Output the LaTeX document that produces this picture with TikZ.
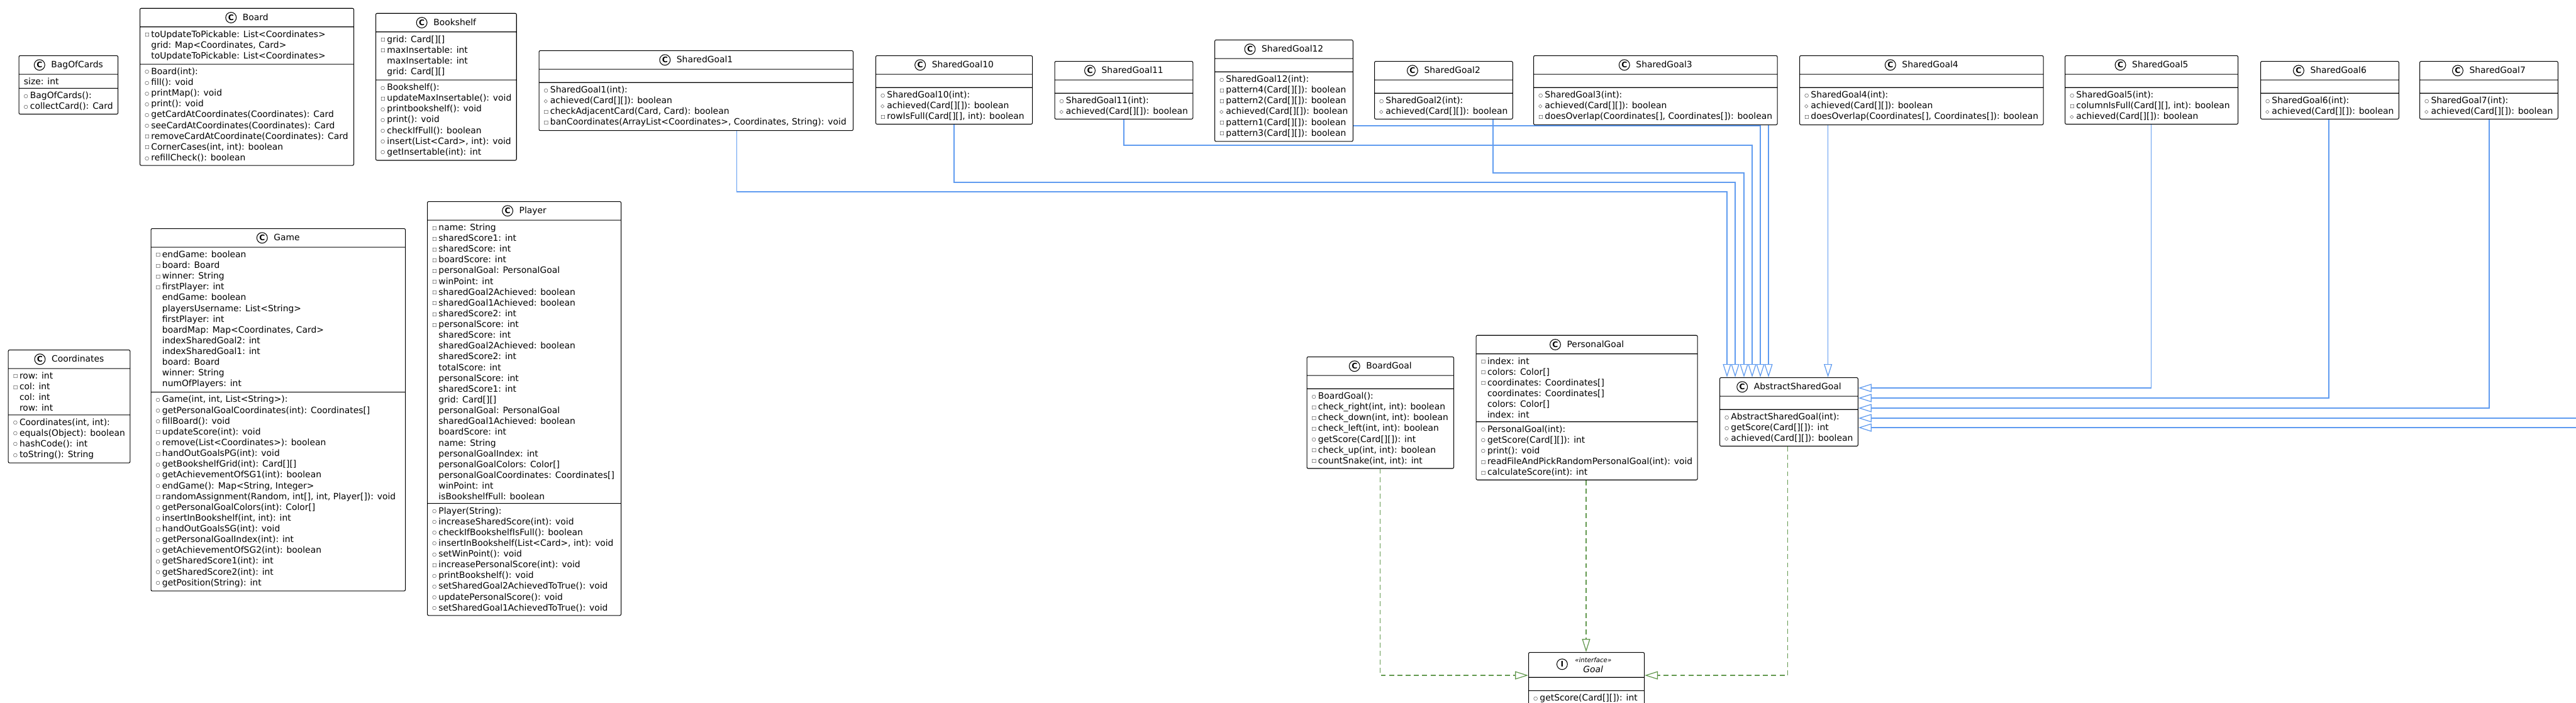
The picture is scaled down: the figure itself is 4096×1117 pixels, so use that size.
\documentclass[tikz,border=0pt]{standalone}
\usepackage{fontspec}
\setmainfont{DejaVu Sans}
\newfontfamily\symfont{DejaVu Sans}
\usepackage{tikz}
\usetikzlibrary{shapes.multipart, arrows.meta}

\newdimen\upx \upx=0.02cm
\definecolor{extblue}{RGB}{95,155,240}
\definecolor{implgreen}{RGB}{98,152,78}

% visibility markers
\newcommand\vis[1]{\makebox[5.7pt][l]{\raisebox{0.8pt}{\symfont\fontsize{4.4pt}{4.4pt}\selectfont #1}}}
\newcommand\pub{\vis{○}}
\newcommand\prv{\vis{□}}
\newcommand\prt{\vis{◇}}
\newcommand\nov{\hspace*{5.7pt}}
\newcommand\cicon[1]{\tikz[baseline=0pt]\node[shape=circle, draw=black, fill=white, line width=0.6pt, inner sep=0pt, minimum width=9.6pt, minimum height=9.6pt, anchor=center, text=black, font=\bfseries\fontsize{7pt}{7pt}\selectfont] (ico) at (0pt,2.6pt) {#1};}

\tikzset{
  cls/.style={rectangle split, rectangle split parts=3, draw=black, fill=white, line width=0.6pt,
    rounded corners=1.2pt, anchor=north west, inner xsep=4.5pt, inner ysep=3pt, align=left,
    rectangle split part align={center,left,left}, rectangle split empty part height=0pt,
    rectangle split empty part depth=0pt, font=\fontsize{7.9pt}{9.75pt}\selectfont, minimum width=#1},
  ext/.style={draw=extblue, line width=0.7pt, -{Triangle[open, length=0.42cm, width=0.26cm]}},
  impl/.style={draw=implgreen, line width=0.7pt, dash pattern=on 4.5pt off 3pt, -{Triangle[open, length=0.42cm, width=0.26cm]}}
}

\begin{document}
\begin{tikzpicture}[x=0.02cm, y=-0.02cm]
\fill[white] (0,0) rectangle (4096,1117);
\useasboundingbox (0,0) rectangle (4096,1117);

% model classes
\node[cls=156.5\upx] (bag) at (29.5,88) {\cicon{C}\hspace{5.5pt}BagOfCards
  \nodepart{two}size: int
  \nodepart{three}\pub BagOfCards():\\ \pub collectCard(): Card};

\node[cls=340\upx] (board) at (222,12.7) {\cicon{C}\hspace{5.5pt}Board
  \nodepart{two}\prv toUpdateToPickable: List<Coordinates>\\ \nov grid: Map<Coordinates, Card>\\ \nov toUpdateToPickable: List<Coordinates>
  \nodepart{three}\pub Board(int):\\ \pub fill(): void\\ \pub printMap(): void\\ \pub print(): void\\
  \pub getCardAtCoordinates(Coordinates): Card\\ \pub seeCardAtCoordinates(Coordinates): Card\\
  \prv removeCardAtCoordinate(Coordinates): Card\\ \prv CornerCases(int, int): boolean\\ \pub refillCheck(): boolean};

\node[cls=223\upx] (shelf) at (597,20.7) {\cicon{C}\hspace{5.5pt}Bookshelf
  \nodepart{two}\prv grid: Card[][]\\ \prv maxInsertable: int\\ \nov maxInsertable: int\\ \nov grid: Card[][]
  \nodepart{three}\pub Bookshelf():\\ \prv updateMaxInsertable(): void\\ \pub printbookshelf(): void\\ \pub print(): void\\
  \pub checkIfFull(): boolean\\ \pub insert(List<Card>, int): void\\ \pub getInsertable(int): int};

\node[cls=191.4\upx] (coord) at (12.6,556) {\cicon{C}\hspace{5.5pt}Coordinates
  \nodepart{two}\prv row: int\\ \prv col: int\\ \nov col: int\\ \nov row: int
  \nodepart{three}\pub Coordinates(int, int):\\ \pub equals(Object): boolean\\ \pub hashCode(): int\\ \pub toString(): String};

\node[cls=404.5\upx] (game) at (239.5,363) {\cicon{C}\hspace{5.5pt}Game
  \nodepart{two}\prv endGame: boolean\\ \prv board: Board\\ \prv winner: String\\ \prv firstPlayer: int\\
  \nov endGame: boolean\\ \nov playersUsername: List<String>\\ \nov firstPlayer: int\\ \nov boardMap: Map<Coordinates, Card>\\
  \nov indexSharedGoal2: int\\ \nov indexSharedGoal1: int\\ \nov board: Board\\ \nov winner: String\\ \nov numOfPlayers: int
  \nodepart{three}\pub Game(int, int, List<String>):\\ \pub getPersonalGoalCoordinates(int): Coordinates[]\\
  \pub fillBoard(): void\\ \prv updateScore(int): void\\ \pub remove(List<Coordinates>): boolean\\
  \prv handOutGoalsPG(int): void\\ \pub getBookshelfGrid(int): Card[][]\\ \pub getAchievementOfSG1(int): boolean\\
  \pub endGame(): Map<String, Integer>\\ \prv randomAssignment(Random, int[], int, Player[]): void\\
  \pub getPersonalGoalColors(int): Color[]\\ \pub insertInBookshelf(int, int): int\\ \prv handOutGoalsSG(int): void\\
  \pub getPersonalGoalIndex(int): int\\ \pub getAchievementOfSG2(int): boolean\\ \pub getSharedScore1(int): int\\
  \pub getSharedScore2(int): int\\ \pub getPosition(String): int};

\node[cls=308\upx] (player) at (679,320) {\cicon{C}\hspace{5.5pt}Player
  \nodepart{two}\prv name: String\\ \prv sharedScore1: int\\ \prv sharedScore: int\\ \prv boardScore: int\\
  \prv personalGoal: PersonalGoal\\ \prv winPoint: int\\ \prv sharedGoal2Achieved: boolean\\ \prv sharedGoal1Achieved: boolean\\
  \prv sharedScore2: int\\ \prv personalScore: int\\ \nov sharedScore: int\\ \nov sharedGoal2Achieved: boolean\\
  \nov sharedScore2: int\\ \nov totalScore: int\\ \nov personalScore: int\\ \nov sharedScore1: int\\ \nov grid: Card[][]\\
  \nov personalGoal: PersonalGoal\\ \nov sharedGoal1Achieved: boolean\\ \nov boardScore: int\\ \nov name: String\\
  \nov personalGoalIndex: int\\ \nov personalGoalColors: Color[]\\ \nov personalGoalCoordinates: Coordinates[]\\
  \nov winPoint: int\\ \nov isBookshelfFull: boolean
  \nodepart{three}\pub Player(String):\\ \pub increaseSharedScore(int): void\\ \pub checkIfBookshelfIsFull(): boolean\\
  \pub insertInBookshelf(List<Card>, int): void\\ \pub setWinPoint(): void\\ \prv increasePersonalScore(int): void\\
  \pub printBookshelf(): void\\ \pub setSharedGoal2AchievedToTrue(): void\\ \pub updatePersonalScore(): void\\
  \pub setSharedGoal1AchievedToTrue(): void};

% shared goals
\node[cls=499.5\upx] (sg1) at (856.5,80) {\cicon{C}\hspace{5.5pt}SharedGoal1
  \nodepart{two}\nodepart{three}\pub SharedGoal1(int):\\ \prt achieved(Card[][]): boolean\\
  \prv checkAdjacentCard(Card, Card): boolean\\ \prv banCoordinates(ArrayList<Coordinates>, Coordinates, String): void};
\node[cls=249\upx] (sg10) at (1392,88) {\cicon{C}\hspace{5.5pt}SharedGoal10
  \nodepart{two}\nodepart{three}\pub SharedGoal10(int):\\ \prt achieved(Card[][]): boolean\\ \prv rowIsFull(Card[][], int): boolean};
\node[cls=218.5\upx] (sg11) at (1676.5,97) {\cicon{C}\hspace{5.5pt}SharedGoal11
  \nodepart{two}\nodepart{three}\pub SharedGoal11(int):\\ \prt achieved(Card[][]): boolean};
\node[cls=218.5\upx] (sg12) at (1931,63) {\cicon{C}\hspace{5.5pt}SharedGoal12
  \nodepart{two}\nodepart{three}\pub SharedGoal12(int):\\ \prv pattern4(Card[][]): boolean\\ \prv pattern2(Card[][]): boolean\\
  \prt achieved(Card[][]): boolean\\ \prv pattern1(Card[][]): boolean\\ \prv pattern3(Card[][]): boolean};
\node[cls=218.5\upx] (sg2) at (2185,97) {\cicon{C}\hspace{5.5pt}SharedGoal2
  \nodepart{two}\nodepart{three}\pub SharedGoal2(int):\\ \prt achieved(Card[][]): boolean};
\node[cls=387.5\upx] (sg3) at (2438,88) {\cicon{C}\hspace{5.5pt}SharedGoal3
  \nodepart{two}\nodepart{three}\pub SharedGoal3(int):\\ \prt achieved(Card[][]): boolean\\ \prv doesOverlap(Coordinates[], Coordinates[]): boolean};
\node[cls=386\upx] (sg4) at (2861,88) {\cicon{C}\hspace{5.5pt}SharedGoal4
  \nodepart{two}\nodepart{three}\pub SharedGoal4(int):\\ \prt achieved(Card[][]): boolean\\ \prv doesOverlap(Coordinates[], Coordinates[]): boolean};
\node[cls=275\upx] (sg5) at (3283,88) {\cicon{C}\hspace{5.5pt}SharedGoal5
  \nodepart{two}\nodepart{three}\pub SharedGoal5(int):\\ \prv columnIsFull(Card[][], int): boolean\\ \prt achieved(Card[][]): boolean};
\node[cls=218.6\upx] (sg6) at (3594,97) {\cicon{C}\hspace{5.5pt}SharedGoal6
  \nodepart{two}\nodepart{three}\pub SharedGoal6(int):\\ \prt achieved(Card[][]): boolean};
\node[cls=219\upx] (sg7) at (3847,97) {\cicon{C}\hspace{5.5pt}SharedGoal7
  \nodepart{two}\nodepart{three}\pub SharedGoal7(int):\\ \prt achieved(Card[][]): boolean};

% goals
\node[cls=233.5\upx] (bgoal) at (2077.5,567) {\cicon{C}\hspace{5.5pt}BoardGoal
  \nodepart{two}\nodepart{three}\pub BoardGoal():\\ \prv check\_right(int, int): boolean\\ \prv check\_down(int, int): boolean\\
  \prv check\_left(int, int): boolean\\ \pub getScore(Card[][]): int\\ \prv check\_up(int, int): boolean\\ \prv countSnake(int, int): int};
\node[cls=351.4\upx] (pgoal) at (2346.6,532.7) {\cicon{C}\hspace{5.5pt}PersonalGoal
  \nodepart{two}\prv index: int\\ \prv colors: Color[]\\ \prv coordinates: Coordinates[]\\ \nov coordinates: Coordinates[]\\
  \nov colors: Color[]\\ \nov index: int
  \nodepart{three}\pub PersonalGoal(int):\\ \pub getScore(Card[][]): int\\ \pub print(): void\\
  \prv readFileAndPickRandomPersonalGoal(int): void\\ \prv calculateScore(int): int};
\node[cls=219\upx] (asg) at (2734,600) {\cicon{C}\hspace{5.5pt}AbstractSharedGoal
  \nodepart{two}\nodepart{three}\pub AbstractSharedGoal(int):\\ \pub getScore(Card[][]): int\\ \prt achieved(Card[][]): boolean};
\node[cls=184\upx] (goal) at (2430,1037) {\cicon{I}\hspace{2pt}\parbox[c][16pt][c]{42pt}{\centering{\fontsize{5.8pt}{6pt}\selectfont\itshape «interface»}\\[-0.5pt]{\fontsize{7.9pt}{8pt}\selectfont\itshape Goal}}
  \nodepart{two}\nodepart{three}\pub getScore(Card[][]): int};

% inheritance
\coordinate (k1) at (1171.5,305); \coordinate (j1) at (2746,305);
\draw[ext] (k1 |- sg1.south) -- (k1) -- (j1) -- (j1 |- asg.north);
\coordinate (k2) at (1517,290); \coordinate (j2) at (2759,290);
\draw[ext] (k2 |- sg10.south) -- (k2) -- (j2) -- (j2 |- asg.north);
\coordinate (k3) at (2374,275); \coordinate (j3) at (2773,275);
\draw[ext] (k3 |- sg2.south) -- (k3) -- (j3) -- (j3 |- asg.north);
\coordinate (k4) at (1787,231); \coordinate (j4) at (2786,231);
\draw[ext] (k4 |- sg11.south) -- (k4) -- (j4) -- (j4 |- asg.north);
\coordinate (j5) at (2799,200);
\draw[ext] (j5 -| sg12.east) -- (j5) -- (j5 |- asg.north);
\coordinate (j6) at (2812,0);
\draw[ext] (j6 |- sg3.south) -- (j6 |- asg.north);
\coordinate (j7) at (2906.6,0);
\draw[ext] (j7 |- sg4.south) -- (j7 |- asg.north);
\coordinate (k8) at (3420.6,617);
\draw[ext] (k8 |- sg5.south) -- (k8) -- (k8 -| asg.east);
\coordinate (k9) at (3703,633);
\draw[ext] (k9 |- sg6.south) -- (k9) -- (k9 -| asg.east);
\coordinate (k10) at (3958,649);
\draw[ext] (k10 |- sg7.south) -- (k10) -- (k10 -| asg.east);
\coordinate (e1) at (4096,665);
\draw[ext] (e1) -- (e1 -| asg.east);
\coordinate (e2) at (4096,680);
\draw[ext] (e2) -- (e2 -| asg.east);

% realization
\coordinate (g1) at (2194.6,1074);
\draw[impl] (g1 |- bgoal.south) -- (g1) -- (g1 -| goal.west);
\coordinate (g2) at (2522,0);
\draw[impl] (g2 |- pgoal.south) -- (g2 |- goal.north);
\coordinate (g3) at (2842.5,1074);
\draw[impl] (g3 |- asg.south) -- (g3) -- (g3 -| goal.east);
\end{tikzpicture}
\end{document}
